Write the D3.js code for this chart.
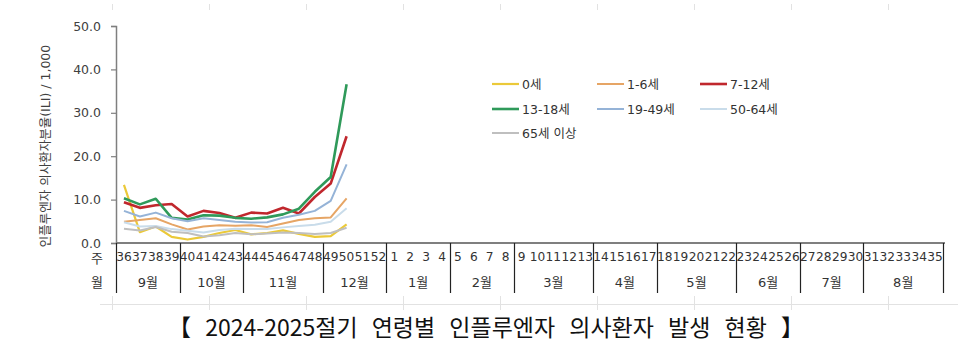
<!DOCTYPE html>
<html><head><meta charset="utf-8">
<script src="https://cdn.jsdelivr.net/npm/d3@7"></script>
<style>
html,body{margin:0;padding:0;background:#fff;}
svg{display:block;}
text{font-family:"DejaVu Sans","Noto Sans CJK KR",sans-serif;}
</style></head>
<body>
<svg id="chart" width="973" height="356"></svg>
<script>
// ---- data ----
const weeks = [36,37,38,39,40,41,42,43,44,45,46,47,48,49,50,51,52,1,2,3,4,5,6,7,8,9,10,11,12,13,14,15,16,17,18,19,20,21,22,23,24,25,26,27,28,29,30,31,32,33,34,35];
const months = ["9월","10월","11월","12월","1월","2월","3월","4월","5월","6월","7월","8월"];
const monthStartWeeks = [36,40,44,49,1,5,9,14,18,23,27,31];
const dataWeeks = [36,37,38,39,40,41,42,43,44,45,46,47,48,49,50];
const seriesNames = ["0세","1-6세","7-12세","13-18세","19-49세","50-64세","65세 이상"];
const age0    = [13.4, 2.5, 3.8, 1.4, 0.8, 1.4, 2.3, 3.0, 2.0, 2.3, 2.9, 2.1, 1.4, 1.6, 4.3];
const age1_6  = [4.9, 5.3, 5.7, 4.3, 3.1, 3.8, 4.1, 4.0, 4.1, 3.7, 4.5, 5.3, 5.7, 5.9, 10.3];
const age7_12 = [9.4, 8.1, 8.7, 9.0, 6.1, 7.4, 6.9, 5.8, 7.0, 6.8, 8.1, 6.8, 10.6, 13.7, 24.6];
const age13_18= [10.3, 8.9, 10.2, 5.8, 5.4, 6.4, 6.3, 5.8, 5.6, 5.9, 6.6, 7.9, 11.8, 15.2, 36.6];
const age19_49= [7.4, 6.1, 7.0, 5.7, 5.0, 5.7, 5.3, 4.9, 4.7, 4.8, 5.8, 6.5, 7.4, 9.7, 18.1];
const age50_64= [4.8, 3.8, 3.9, 3.2, 2.8, 2.4, 3.0, 3.3, 3.2, 3.2, 3.6, 3.9, 4.2, 4.9, 8.0];
const age65   = [3.3, 2.9, 3.7, 2.6, 2.3, 1.5, 1.8, 2.3, 2.0, 2.2, 2.4, 2.3, 2.1, 2.3, 3.5];
const yTicks = [0,10,20,30,40,50];
const colors = ["#EBC939","#E6A565","#C0272D","#2F9A5A","#95B3D7","#C9DCEA","#BFBFBF"];
const widths = [2.2,2,2.6,2.6,2,2,2];
const allSeries = [age0, age1_6, age7_12, age13_18, age19_49, age50_64, age65];

// ---- layout ----
const svg = d3.select("#chart");
const L = 116, R = 943, T = 26, B = 243;
const x = d3.scaleBand().domain(weeks).range([L, R]).padding(0);
const y = d3.scaleLinear().domain([0, 50]).range([B, T]);

// faint sheet gridlines
const faint = svg.append("g").attr("stroke", "#e2e2e2").attr("stroke-width", 1);
d3.range(9).forEach(i => {
  const gx = 112 + 97 * i + 0.5;
  faint.append("line").attr("x1", gx).attr("x2", gx).attr("y1", 4).attr("y2", 10);
  faint.append("line").attr("x1", gx).attr("x2", gx).attr("y1", 296).attr("y2", 310);
});
faint.append("line").attr("x1", 100).attr("x2", 958).attr("y1", 304.5).attr("y2", 304.5);

// y axis
const yAxis = svg.append("g").attr("transform", `translate(${L},0)`)
  .call(d3.axisLeft(y).tickValues(yTicks).tickFormat(d3.format(".1f")).tickSize(5).tickPadding(10));
yAxis.select(".domain").attr("stroke", "#7f7f7f").attr("stroke-width", 1.5);
yAxis.selectAll(".tick line").attr("stroke", "#7f7f7f").attr("stroke-width", 1.2);
yAxis.selectAll(".tick text").attr("font-size", 12.5).attr("fill", "#404040")
  .style("font-family", "DejaVu Sans");

// y title
svg.append("text")
  .attr("transform", "translate(50,146) rotate(-90)")
  .attr("text-anchor", "middle")
  .attr("font-size", 12.5).attr("fill", "#404040")
  .text("인플루엔자 의사환자분율(ILI) / 1,000");

// x axis line
svg.append("line").attr("x1", L).attr("x2", R + 2).attr("y1", B).attr("y2", B)
  .attr("stroke", "#7f7f7f").attr("stroke-width", 2);

// week labels
const xAxis = svg.append("g").attr("transform", `translate(0,${B})`)
  .call(d3.axisBottom(x).tickSize(0).tickPadding(9));
xAxis.select(".domain").remove();
xAxis.selectAll(".tick text").attr("font-size", 12.2).attr("fill", "#333")
  .style("font-family", "DejaVu Sans");

// month boundaries and labels
const boundaries = monthStartWeeks.map(w => x(w)).concat([R]);
svg.append("g").selectAll("line").data(boundaries).join("line")
  .attr("x1", d => Math.round(d) + 0.5).attr("x2", d => Math.round(d) + 0.5)
  .attr("y1", B).attr("y2", 293)
  .attr("stroke", "#222").attr("stroke-width", 1.2);
svg.append("g").selectAll("text").data(months).join("text")
  .attr("x", (d, i) => (boundaries[i] + boundaries[i + 1]) / 2)
  .attr("y", 287)
  .attr("text-anchor", "middle")
  .attr("font-size", 13).attr("fill", "#333")
  .text(d => d);

// row labels
svg.append("text").attr("x", 97).attr("y", 263).attr("text-anchor", "middle")
  .attr("font-size", 13).attr("fill", "#333").text("주");
svg.append("text").attr("x", 97).attr("y", 287).attr("text-anchor", "middle")
  .attr("font-size", 13).attr("fill", "#333").text("월");

// lines
const line = d3.line().x((d, i) => x(dataWeeks[i]) + x.bandwidth() / 2).y(d => y(d));
svg.append("g").selectAll("path").data(allSeries).join("path")
  .attr("d", d => line(d))
  .attr("fill", "none")
  .attr("stroke", (d, i) => colors[i])
  .attr("stroke-width", (d, i) => widths[i])
  .attr("stroke-linejoin", "round");

// legend
const legX = [492, 597, 700], legY = [84, 109, 133];
const leg = svg.append("g").selectAll("g").data(seriesNames).join("g")
  .attr("transform", (d, i) => `translate(${legX[i % 3]},${legY[Math.floor(i / 3)]})`);
leg.append("line").attr("x1", 0).attr("x2", 27).attr("y1", 0).attr("y2", 0)
  .attr("stroke", (d, i) => colors[i]).attr("stroke-width", (d, i) => widths[i]);
leg.append("text").attr("x", 30).attr("y", 4.5)
  .attr("font-size", 12.5).attr("fill", "#333").text(d => d);

// title
const title = svg.append("text").attr("x", 486).attr("y", 336).attr("text-anchor", "middle")
  .attr("font-size", 23).attr("fill", "#111")
  .style("font-family", "'Noto Sans CJK KR', sans-serif")
  .text("【 2024-2025절기 연령별 인플루엔자 의사환자 발생 현황 】");
const tLen = title.node().getComputedTextLength();
const nSpaces = 8;
title.attr("word-spacing", Math.max(0, (645 - tLen) / nSpaces));
</script>
</body></html>
